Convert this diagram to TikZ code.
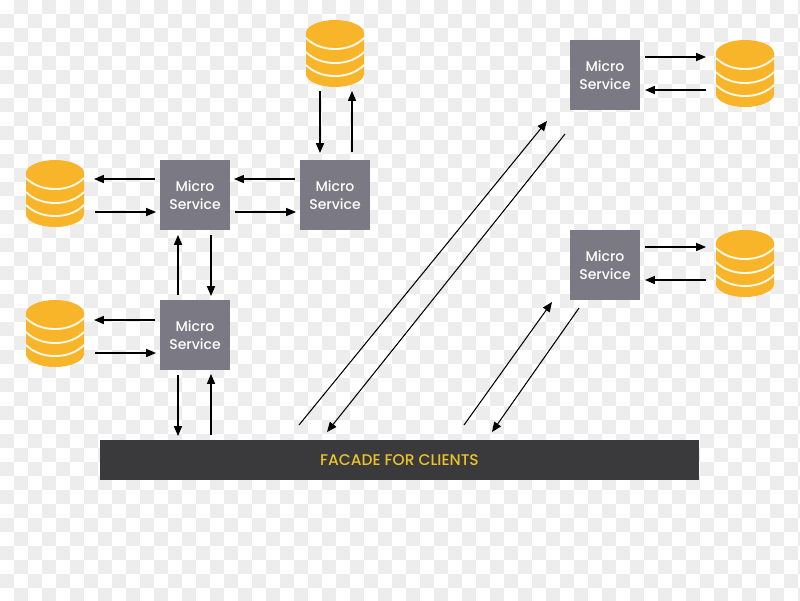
\documentclass[tikz,border=0pt]{standalone}
\usepackage{fontspec}
\setmainfont{Poppins Medium}
\definecolor{chk}{HTML}{EDEDEE}
\definecolor{boxc}{HTML}{7A7984}
\definecolor{barc}{HTML}{3A393B}
\definecolor{bartxt}{HTML}{E9C32C}
\definecolor{dbc}{HTML}{F9B52A}
\usetikzlibrary{arrows.meta}
\tikzset{
  msbox/.style={fill=boxc,minimum size=1.4cm,inner sep=0pt,align=center,text=white,font=\fontsize{8}{10.2}\selectfont},
  facade/.style={fill=barc,minimum width=11.98cm,minimum height=.8cm,inner sep=0pt,text=bartxt,font=\fontsize{8.8}{10}\selectfont},
  arr/.style={draw=black,line width=.6pt,-{Triangle[length=5.6pt,width=4.6pt]}},
  dbbody/.style={fill=dbc,draw=none},
  dbline/.style={draw=white!92!dbc,line width=1.05pt}
}
\newcommand{\dbcyl}[2]{%
  \coordinate (#1) at (#2);
  \begin{scope}[shift={(#2)}]
    \path[dbbody] (-29,-20) -- (-29,21) .. controls (-29,28) and (-16,34) .. (0,34) .. controls (16,34) and (29,28) .. (29,21) -- (29,-20) .. controls (29,-27) and (16,-33) .. (0,-33) .. controls (-16,-33) and (-29,-27) .. (-29,-20) -- cycle;
    \foreach \s in {-15,-1,12}{
      \draw[dbline] (-29,\s) .. controls (-22,\s+7) and (-12,\s+11) .. (0,\s+11) .. controls (12,\s+11) and (22,\s+7) .. (29,\s);
    }
  \end{scope}}
\begin{document}
\begin{tikzpicture}[x=0.02cm,y=-0.02cm]
\useasboundingbox (0,0) rectangle (800,600);
\fill[white] (0,0) rectangle (800,600);
\foreach \i in {0,...,57}{
  \foreach \j in {0,...,42}{
    \pgfmathtruncatemacro{\odd}{mod(\i+\j,2)}
    \ifnum\odd=1 \fill[chk] (\i*14,\j*14) rectangle (\i*14+14,\j*14+14);\fi
  }
}
\dbcyl{dbtop}{335,53}
\dbcyl{dbl}{55,193}
\dbcyl{dbc2}{55,333}
\dbcyl{dbd}{745,73}
\dbcyl{dbe}{745,263}
\node[msbox] (a) at (195,195) {Micro\\Service};
\node[msbox] (b) at (335,195) {Micro\\Service};
\node[msbox] (c) at (195,335) {Micro\\Service};
\node[msbox] (d) at (605,75) {Micro\\Service};
\node[msbox] (e) at (605,265) {Micro\\Service};
\node[facade] (f) at (399.5,460) {FACADE FOR CLIENTS};
% a <-> left db
\draw[arr] ([shift={(-40,-16)}]a.center) -- ([shift={(39,-14)}]dbl);
\draw[arr] ([shift={(40,19)}]dbl) -- ([shift={(-39,17)}]a.center);
% b <-> a
\draw[arr] ([shift={(-40,-16)}]b.center) -- ([shift={(39,-16)}]a.center);
\draw[arr] ([shift={(40,17)}]a.center) -- ([shift={(-39,17)}]b.center);
% top db <-> b
\draw[arr] ([shift={(-15,38)}]dbtop) -- ([shift={(-15,-42)}]b.center);
\draw[arr] ([shift={(17,-43)}]b.center) -- ([shift={(17,38)}]dbtop);
% c <-> a
\draw[arr] ([shift={(-17,-40)}]c.center) -- ([shift={(-17,40)}]a.center);
\draw[arr] ([shift={(16,40)}]a.center) -- ([shift={(16,-39)}]c.center);
% c <-> db
\draw[arr] ([shift={(-40,-15)}]c.center) -- ([shift={(39,-13)}]dbc2);
\draw[arr] ([shift={(40,20)}]dbc2) -- ([shift={(-39,18)}]c.center);
% c <-> facade
\draw[arr] ([shift={(-17,40)}]c.center) -- ([shift={(-221.5,-24)}]f.center);
\draw[arr] ([shift={(-188.5,-25)}]f.center) -- ([shift={(16,39)}]c.center);
% long diagonals
\draw[arr] ([shift={(-100.5,-35)}]f.center) -- ([shift={(-58,46)}]d.center);
\draw[arr] ([shift={(-40,59)}]d.center) -- ([shift={(-72.5,-28)}]f.center);
% short diagonals
\draw[arr] ([shift={(64.5,-35)}]f.center) -- ([shift={(-53,37)}]e.center);
\draw[arr] ([shift={(-26,43)}]e.center) -- ([shift={(92.5,-28)}]f.center);
% d <-> db
\draw[arr] ([shift={(40,-18)}]d.center) -- ([shift={(-39,-16)}]dbd);
\draw[arr] ([shift={(-39,17)}]dbd) -- ([shift={(40,15)}]d.center);
% e <-> db
\draw[arr] ([shift={(40,-18)}]e.center) -- ([shift={(-39,-16)}]dbe);
\draw[arr] ([shift={(-39,17)}]dbe) -- ([shift={(40,15)}]e.center);
\end{tikzpicture}
\end{document}
